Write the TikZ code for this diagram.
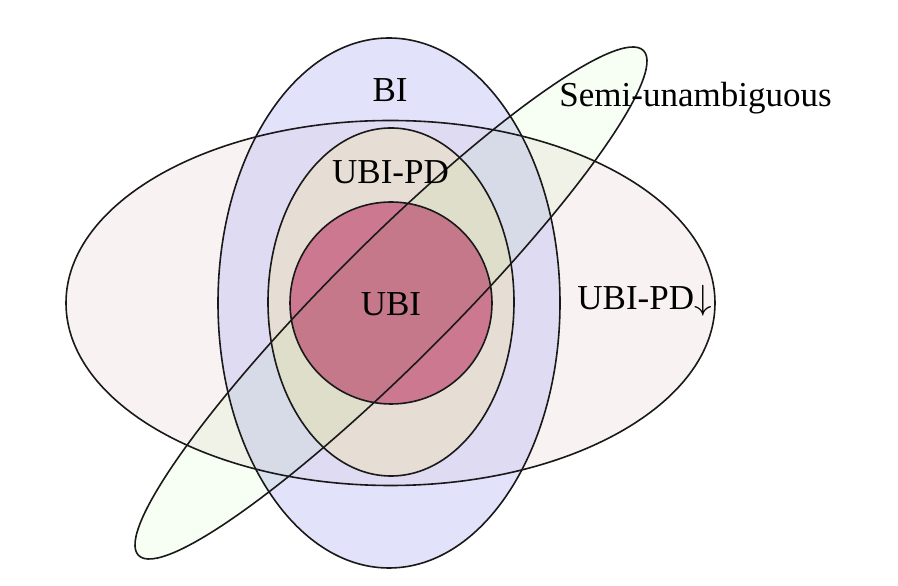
\documentclass[tikz,border=0pt]{standalone}
\usepackage{fontspec}
\setmainfont{Liberation Serif}
\definecolor{bigfill}{RGB}{249,242,242}
\definecolor{bifill}{RGB}{197,197,245}
\definecolor{pdfill}{RGB}{230,222,212}
\definecolor{ubifill}{RGB}{204,120,145}
\definecolor{semifill}{RGB}{247,255,244}
\definecolor{edge}{RGB}{25,25,25}
\tikzset{
  outline/.style={draw=edge, line width=1.6pt},
  lbl/.style={anchor=base, inner sep=0pt, font=\fontsize{35}{40}\selectfont},
}
\newcommand{\bigdownarrow}{\scalebox{3.5}{\normalsize$\downarrow$}}
\begin{document}
\begin{tikzpicture}[x=1pt,y=1pt]
\useasboundingbox (0,0) rectangle (898,586);
% fills
\fill[bigfill] (390.5,283) ellipse [x radius=324.5, y radius=182.5];
\fill[bifill, fill opacity=0.5] (389,283) ellipse [x radius=171, y radius=265];
\fill[pdfill] (391,284) ellipse [x radius=123, y radius=174];
\fill[ubifill] (391,283) circle [radius=101];
\begin{scope}[blend mode=multiply]
\fill[semifill, rotate around={45:(391,283)}] (391,283) ellipse [x radius=357, y radius=60];
\end{scope}
% outlines
\draw[outline] (390.5,283) ellipse [x radius=324.5, y radius=182.5];
\draw[outline] (389,283) ellipse [x radius=171, y radius=265];
\draw[outline] (391,284) ellipse [x radius=123, y radius=174];
\draw[outline] (391,283) circle [radius=101];
\draw[outline, rotate around={45:(391,283)}] (391,283) ellipse [x radius=357, y radius=60];
% labels
\node[lbl] (bi) at (390,484) {BI};
\node[lbl] (semi) at (695.5,479) {Semi-unambiguous};
\node[lbl] (ubipd) at (390.5,402) {UBI-PD};
\node[lbl] (ubi) at (391,270) {UBI};
\node[lbl] (ubipddown) at (644.5,276) {UBI-PD\bigdownarrow};
\end{tikzpicture}
\end{document}
